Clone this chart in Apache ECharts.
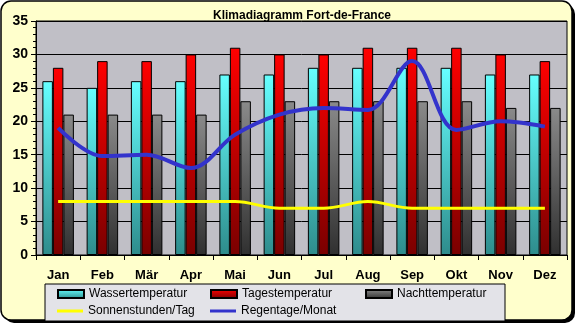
<!DOCTYPE html>
<html><head><meta charset="utf-8">
<script src="https://cdn.jsdelivr.net/npm/echarts@6/dist/echarts.min.js"></script>
<style>html,body{margin:0;padding:0;background:#fff;}#c{width:579px;height:327px;}</style>
</head><body><div id="c"></div>
<script>
const months = ['Jan','Feb','Mär','Apr','Mai','Jun','Jul','Aug','Sep','Okt','Nov','Dez'];
const wasser = [26,25,26,26,27,27,28,28,28,28,27,27];
const tages = [28,29,29,30,31,30,30,31,31,31,30,29];
const nacht = [21,21,21,21,23,23,23,23,23,23,22,22];
const sonne = [8,8,8,8,8,7,7,8,7,7,7,7];
const regen = [19,14.8,15,13,18,21,22,21.7,29,18.7,20,19.2];

const chart = echarts.init(document.getElementById('c'), null, {renderer:'canvas'});
const font = '"Liberation Sans", Arial, sans-serif';
function grad(top, bottom){
  return new echarts.graphic.LinearGradient(0,0,0,1,[{offset:0,color:top},{offset:1,color:bottom}]);
}
const cyanG = grad('#66FFFF','#2E8C8C');
const redG = grad('#FF0000','#7A0000');
const grayG = grad('#8A8A8A','#303030');
function leg(name, left, top, h){
  return {data:[{name:name, icon:'rect'}], left:left, top:top, itemWidth:26, itemHeight:h, itemGap:0,
    textStyle:{fontFamily:font, fontSize:12, color:'#000'}, padding:0, selectedMode:false};
}
chart.setOption({
  animation:false,
  backgroundColor:'#fff',
  graphic:[
    {type:'rect', shape:{x:4,y:4,width:571,height:319,r:10}, style:{fill:'#000'}, z:-10},
    {type:'rect', shape:{x:1,y:1,width:571,height:319,r:10}, style:{fill:'#FFFFCC', stroke:'#000', lineWidth:1.5}, z:-9},
    {type:'rect', shape:{x:45,y:284,width:460,height:37}, style:{fill:'#E3E3E8', stroke:'#000', lineWidth:1}, z:-5}
  ],
  title:{text:'Klimadiagramm Fort-de-France', left:297, top:5, textAlign:'center',
    textStyle:{fontFamily:font, fontSize:12, fontWeight:'bold', color:'#000'}},
  legend:[
    leg('Wassertemperatur',57,288,8),
    leg('Tagestemperatur',210,288,8),
    leg('Nachttemperatur',365,288,8),
    leg('Sonnenstunden/Tag',57,305,3),
    leg('Regentage/Monat',210,305,3)
  ],
  grid:{left:36, right:12, top:21, bottom:72, show:true, backgroundColor:'#C0BFC6', borderColor:'#000', borderWidth:1},
  xAxis:{type:'category', data:months,
    axisLine:{lineStyle:{color:'#000', width:1}},
    axisTick:{show:true, alignWithLabel:false, length:5, lineStyle:{color:'#000'}},
    axisLabel:{fontFamily:font, fontSize:13, fontWeight:'bold', color:'#000', margin:14}},
  yAxis:{type:'value', min:0, max:35, interval:5,
    axisLine:{show:true, lineStyle:{color:'#000'}},
    axisTick:{show:true, length:5, lineStyle:{color:'#000'}},
    minorTick:{show:true, splitNumber:5, length:3, lineStyle:{color:'#000'}},
    splitLine:{lineStyle:{color:'#000', width:1}},
    axisLabel:{fontFamily:font, fontSize:14, fontWeight:'bold', color:'#000', margin:8}},
  series:[
    {name:'Wassertemperatur', type:'bar', data:wasser, barWidth:10.5, barGap:'0%', barCategoryGap:'29%',
      itemStyle:{color:cyanG, borderColor:'#000', borderWidth:1}},
    {name:'Tagestemperatur', type:'bar', data:tages, barWidth:10.5, barGap:'0%',
      itemStyle:{color:redG, borderColor:'#000', borderWidth:1}},
    {name:'Nachttemperatur', type:'bar', data:nacht, barWidth:10.5, barGap:'0%',
      itemStyle:{color:grayG, borderColor:'#000', borderWidth:1}},
    {name:'Sonnenstunden/Tag', type:'line', data:sonne, smooth:0.35, showSymbol:false, symbol:'none',
      itemStyle:{color:'#FFFF00', borderWidth:0}, lineStyle:{color:'#FFFF00', width:3}},
    {name:'Regentage/Monat', type:'line', data:regen, smooth:0.35, showSymbol:false, symbol:'none',
      itemStyle:{color:'#3333CC', borderWidth:0}, lineStyle:{color:'#3333CC', width:4}}
  ]
});
</script></body></html>
